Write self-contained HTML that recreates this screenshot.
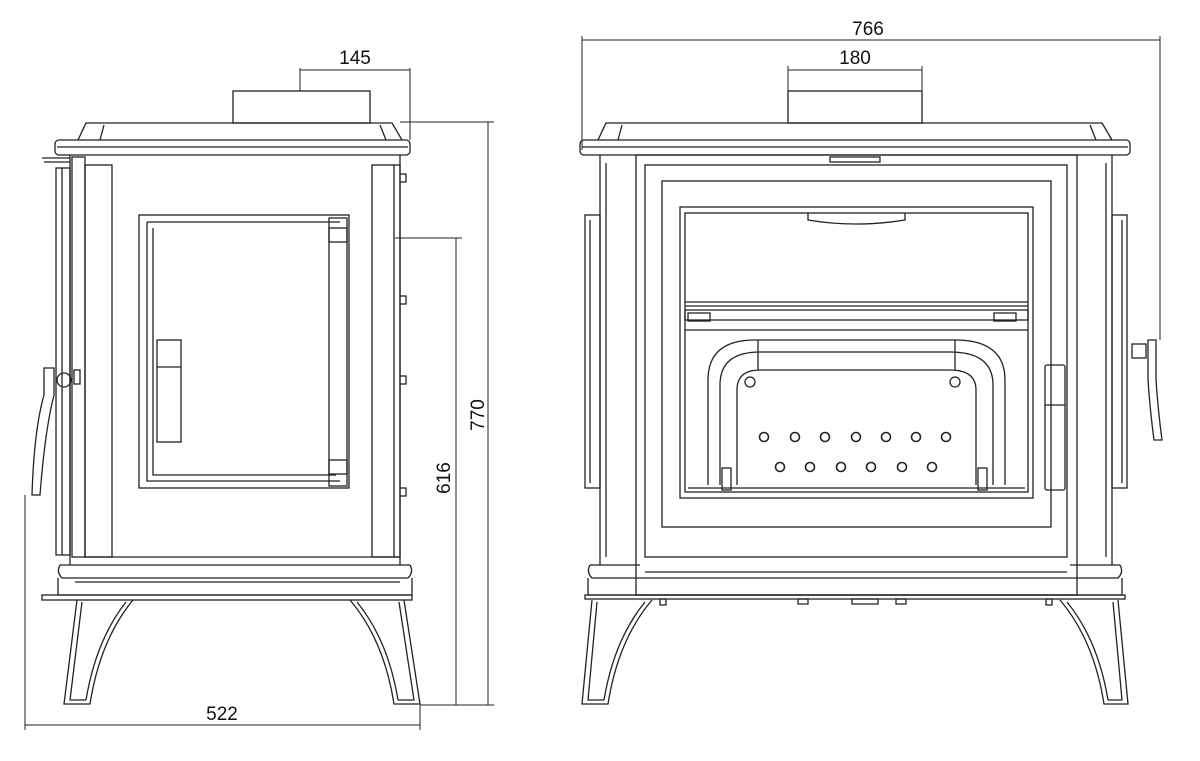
<!DOCTYPE html>
<html><head><meta charset="utf-8"><style>
html,body{margin:0;padding:0;background:#fff}
svg{display:block}
text{font-family:"Liberation Sans",sans-serif;font-size:19px;fill:#111}
</style></head><body>
<svg width="1200" height="761" viewBox="0 0 1200 761" xmlns="http://www.w3.org/2000/svg">
<g fill="none" stroke="#222" stroke-width="1.3">
<!-- ===== LEFT VIEW ===== -->
<rect x="233" y="91" width="137" height="32"/>
<path d="M78 140 L86 123 L392 123 L402 140"/>
<path d="M100 140 L104 125 M380 125 L386 140"/>
<rect x="55" y="140" width="355" height="15" rx="4"/>
<line x1="57" y1="147" x2="408" y2="147"/>
<line x1="70" y1="155" x2="70" y2="565"/>
<line x1="400" y1="155" x2="400" y2="565"/>
<rect x="85" y="165" width="27" height="392"/>
<rect x="72" y="157" width="13" height="400"/>
<rect x="372" y="165" width="28" height="392"/>
<line x1="394" y1="165" x2="394" y2="557"/>
<line x1="85" y1="557" x2="400" y2="557"/>
<!-- door -->
<rect x="139" y="215" width="210" height="273"/>
<path d="M147 222 L340 222 M147 222 L147 481 L340 481"/>
<path d="M153 228 L153 475 L336 475"/>
<rect x="329" y="218" width="18" height="268"/>
<rect x="329" y="228" width="18" height="14"/>
<rect x="329" y="460" width="18" height="14"/>
<rect x="157" y="340" width="24" height="102"/>
<line x1="157" y1="367" x2="181" y2="367"/>
<!-- right side bolts -->
<path d="M400 174 h6 v8 h-6 M400 296 h6 v8 h-6 M400 376 h6 v8 h-6 M400 488 h6 v8 h-6"/>
<!-- left door edge -->
<rect x="56" y="168" width="14" height="387"/>
<line x1="62" y1="168" x2="62" y2="555"/>
<path d="M42 158 L70 158 M44 162 L70 162"/>
<path d="M44 368 L54 368 L54 395 Q45 430 40 495 L32 495 Q34 430 44 395 Z"/>
<circle cx="64" cy="380" r="7"/>
<rect x="74" y="370" width="6" height="14"/>
<!-- base -->
<path d="M60 565 L410 565 M60 565 Q56 572 62 578 L408 578 Q414 572 410 565"/>
<path d="M58 578 L58 595 L412 595 L412 578"/>
<line x1="75" y1="582" x2="400" y2="582"/>
<rect x="42" y="595" width="370" height="5"/>
<!-- legs -->
<path d="M77 600 L64 704 L90 704 Q100 640 133 600"/>
<path d="M82 602 L70 700 L86 700"/>
<path d="M126 602 Q96 640 86 700"/>
<path d="M404 600 L420 704 L394 704 Q384 640 350 600"/>
<path d="M399 602 L414 700 L398 700"/>
<path d="M357 602 Q388 640 398 700"/>
<!-- dimensions left -->
<g stroke-width="1">
<line x1="300" y1="68" x2="300" y2="91"/>
<line x1="410" y1="68" x2="410" y2="140"/>
<line x1="300" y1="70" x2="410" y2="70"/>
<line x1="400" y1="122" x2="494" y2="122"/>
<line x1="420" y1="705" x2="494" y2="705"/>
<line x1="488" y1="122" x2="488" y2="705"/>
<line x1="395" y1="238" x2="462" y2="238"/>
<line x1="456" y1="238" x2="456" y2="705"/>
<line x1="25" y1="495" x2="25" y2="730"/>
<line x1="420" y1="705" x2="420" y2="730"/>
<line x1="25" y1="725" x2="420" y2="725"/>
<!-- right dims -->
<line x1="582" y1="36" x2="582" y2="150"/>
<line x1="1160" y1="36" x2="1160" y2="340"/>
<line x1="582" y1="40" x2="1160" y2="40"/>
<line x1="788" y1="66" x2="788" y2="91"/>
<line x1="922" y1="66" x2="922" y2="91"/>
<line x1="788" y1="70" x2="922" y2="70"/>
</g>
<!-- ===== RIGHT VIEW ===== -->
<rect x="788" y="91" width="134" height="32"/>
<path d="M598 140 L606 123 L1102 123 L1112 140"/>
<path d="M618 140 L622 125 M1090 125 L1096 140"/>
<rect x="580" y="140" width="550" height="15" rx="4"/>
<line x1="582" y1="147" x2="1128" y2="147"/>
<line x1="600" y1="155" x2="600" y2="565"/>
<line x1="1112" y1="155" x2="1112" y2="565"/>
<line x1="606" y1="163" x2="606" y2="557"/>
<line x1="1106" y1="163" x2="1106" y2="557"/>
<rect x="636" y="155" width="441" height="440"/>
<rect x="645" y="165" width="422" height="392"/>
<rect x="662" y="181" width="389" height="346"/>
<rect x="680" y="207" width="353" height="291"/>
<rect x="685" y="213" width="343" height="279"/>
<path d="M808 213 L808 220 Q855 228 905 220 L905 213"/>
<line x1="685" y1="302" x2="1028" y2="302"/>
<line x1="685" y1="306" x2="1028" y2="306"/>
<rect x="685" y="310" width="343" height="10"/>
<rect x="688" y="313" width="22" height="8"/>
<rect x="994" y="313" width="22" height="8"/>
<line x1="685" y1="330" x2="1028" y2="330"/>
<path d="M708 485 L708 380 Q708 340 755 340 L955 340 Q1005 340 1005 380 L1005 485"/>
<path d="M720 485 L720 385 Q720 352 760 352 L950 352 Q993 352 993 385 L993 485"/>
<path d="M737 485 L737 390 Q737 370 760 370 L950 370 Q976 370 976 390 L976 485"/>
<line x1="758" y1="340" x2="758" y2="370"/>
<line x1="955" y1="340" x2="955" y2="370"/>
<line x1="688" y1="488" x2="1025" y2="488"/>
<rect x="722" y="468" width="9" height="22"/>
<rect x="978" y="468" width="9" height="22"/>
<circle cx="750" cy="382" r="5"/><circle cx="955" cy="382" r="5"/>
<g stroke-width="1.6">
<circle cx="764" cy="437" r="4.5"/><circle cx="795" cy="437" r="4.5"/><circle cx="825" cy="437" r="4.5"/><circle cx="856" cy="437" r="4.5"/><circle cx="886" cy="437" r="4.5"/><circle cx="916" cy="437" r="4.5"/><circle cx="946" cy="437" r="4.5"/>
<circle cx="780" cy="467" r="4.5"/><circle cx="810" cy="467" r="4.5"/><circle cx="841" cy="467" r="4.5"/><circle cx="871" cy="467" r="4.5"/><circle cx="902" cy="467" r="4.5"/><circle cx="932" cy="467" r="4.5"/>
</g>
<rect x="830" y="157" width="50" height="5"/>
<rect x="1045" y="365" width="20" height="125" rx="2"/>
<line x1="1045" y1="405" x2="1065" y2="405"/>
<rect x="585" y="215" width="15" height="273"/>
<line x1="590" y1="220" x2="590" y2="483"/>
<rect x="1112" y="215" width="15" height="273"/>
<line x1="1122" y1="220" x2="1122" y2="483"/>
<path d="M1148 340 L1156 340 L1156 380 Q1158 410 1162 440 L1154 440 Q1150 410 1148 380 Z"/>
<rect x="1132" y="344" width="14" height="14"/>
<!-- base -->
<path d="M590 565 L640 565 M1070 565 L1120 565 M590 565 Q586 572 592 578 L1118 578 Q1124 572 1120 565"/>
<path d="M588 578 L588 595 L1122 595 L1122 578"/>
<line x1="645" y1="572" x2="1067" y2="572"/>
<rect x="585" y="595" width="540" height="4"/>
<path d="M798 599 h10 v5 h-10z M852 599 h26 v5 h-26z M896 599 h10 v5 h-10z M660 599 h6 v6 h-6z M1046 599 h6 v6 h-6z"/>
<path d="M592 600 L582 704 L608 704 Q618 640 652 600"/>
<path d="M597 602 L588 700 L604 700"/>
<path d="M645 602 Q614 640 604 700"/>
<path d="M1118 600 L1128 704 L1104 704 Q1094 640 1060 600"/>
<path d="M1113 602 L1122 700 L1108 700"/>
<path d="M1067 602 Q1098 640 1108 700"/>
</g>
<text x="355" y="64" text-anchor="middle">145</text>
<text x="222" y="720" text-anchor="middle">522</text>
<text x="868" y="35" text-anchor="middle">766</text>
<text x="855" y="64" text-anchor="middle">180</text>
<text transform="translate(484 415) rotate(-90)" text-anchor="middle">770</text>
<text transform="translate(450 478) rotate(-90)" text-anchor="middle">616</text>
</svg>
</body></html>
